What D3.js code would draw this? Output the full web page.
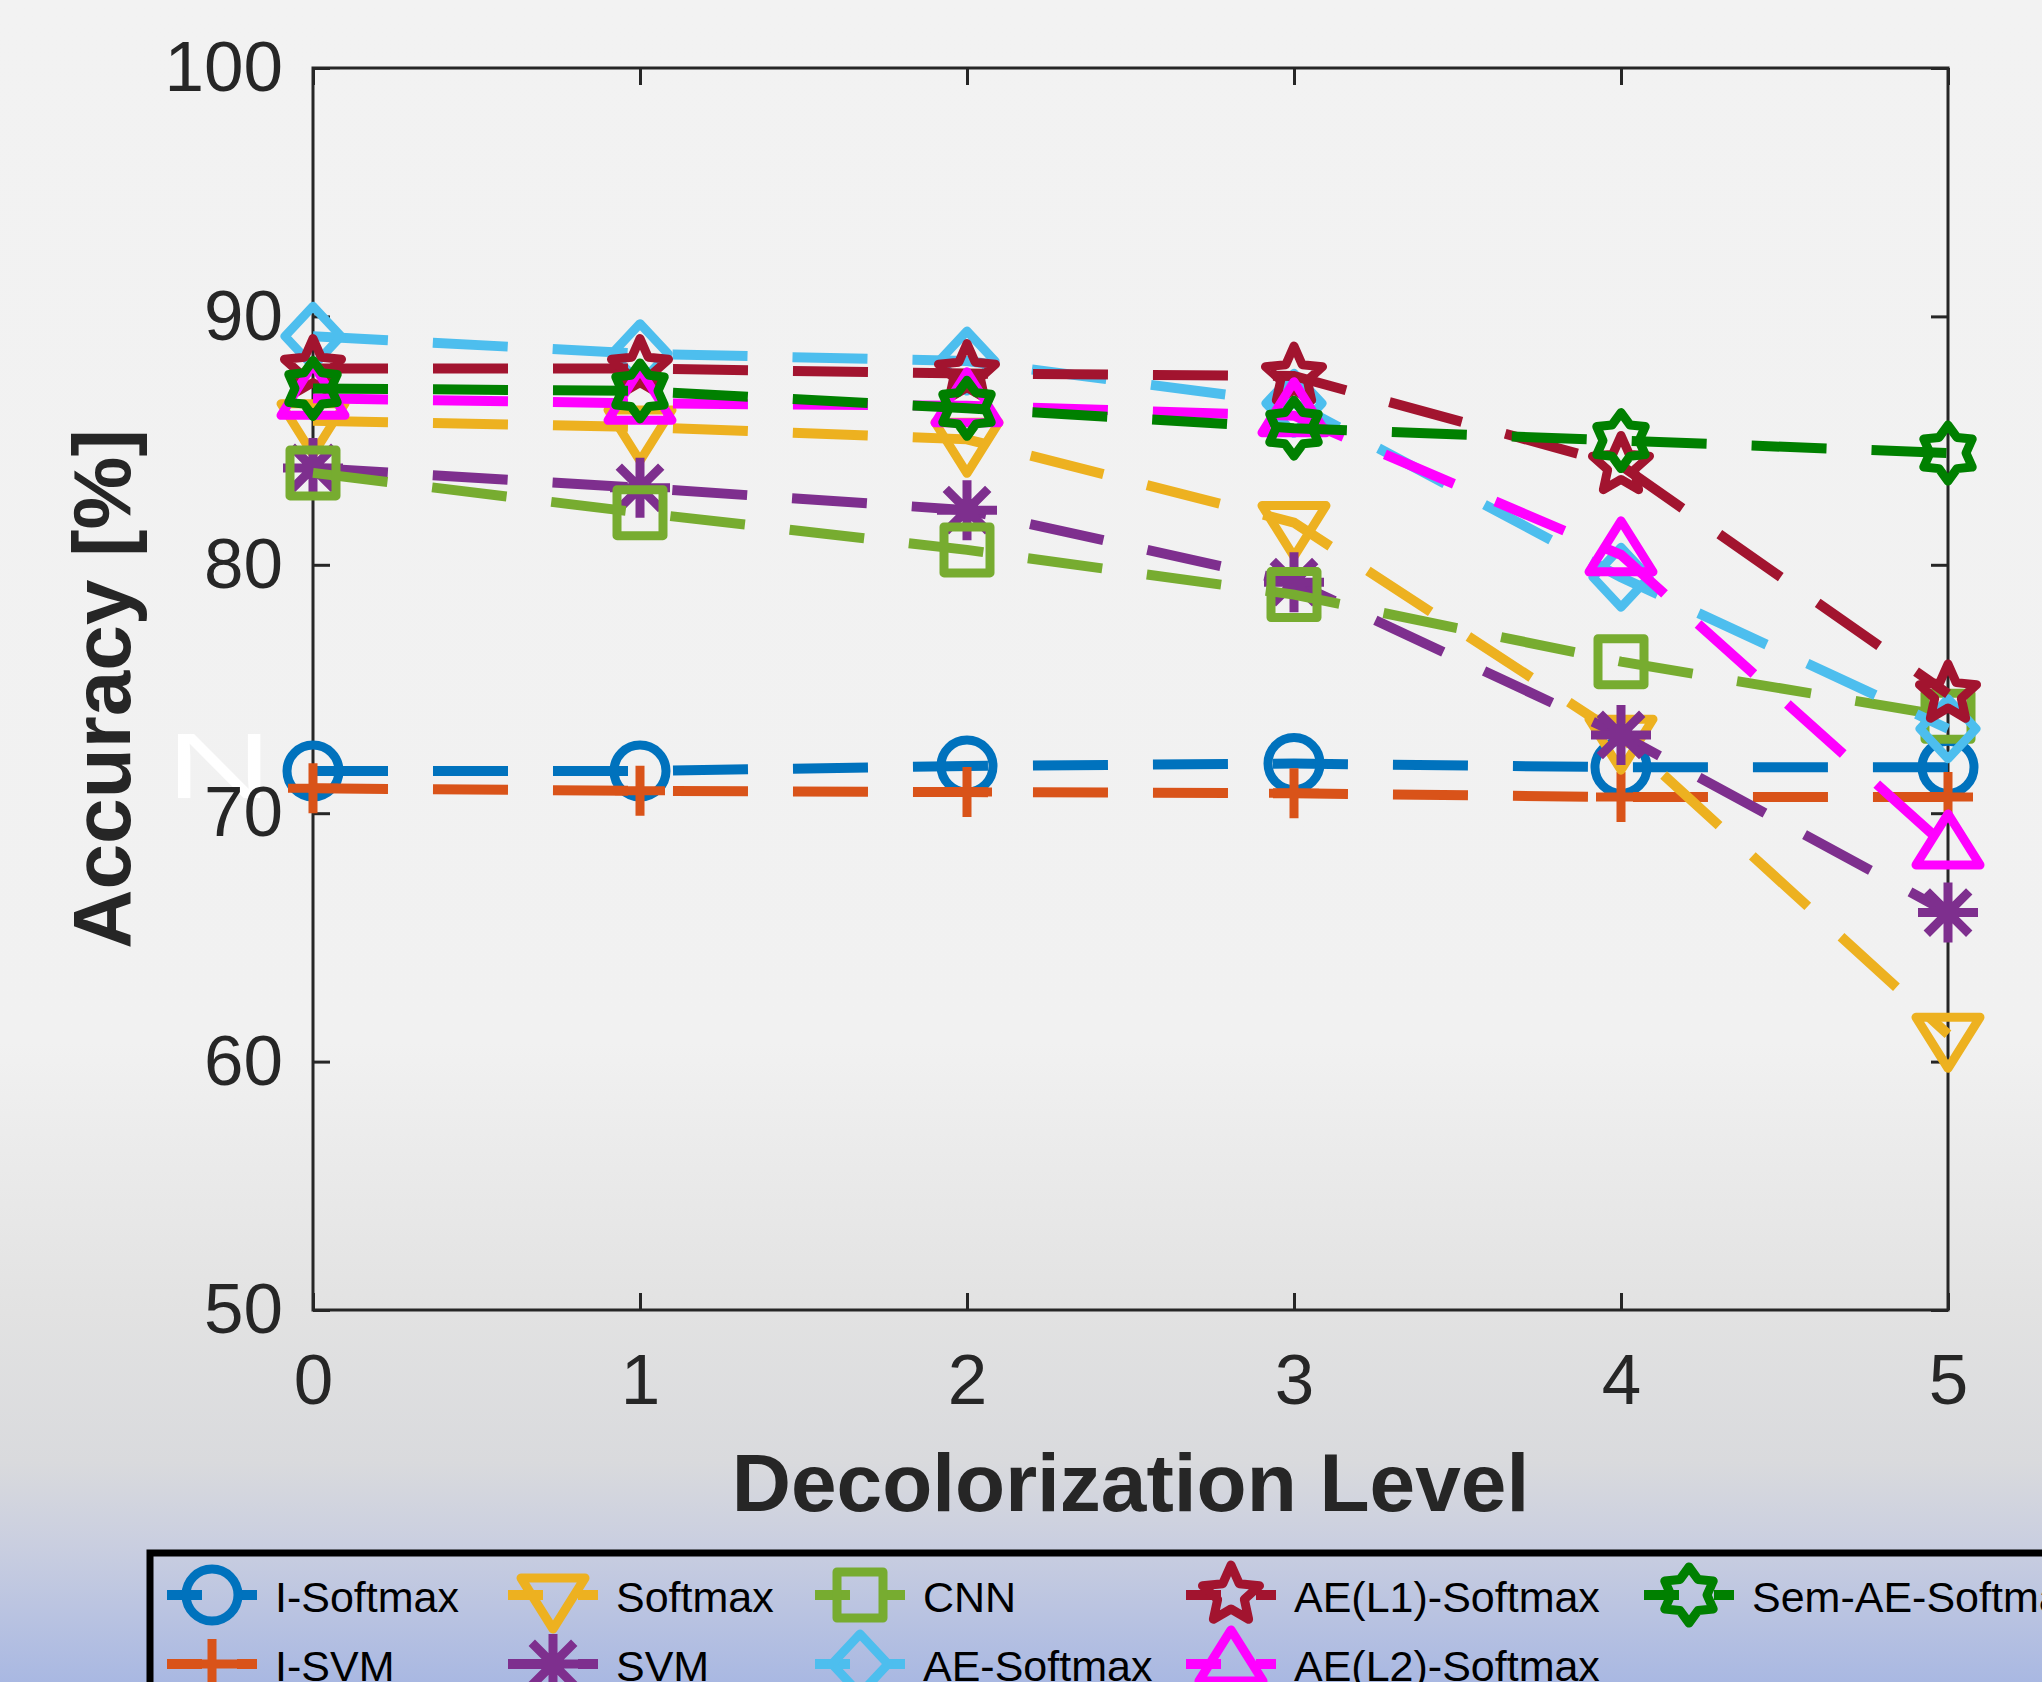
<!DOCTYPE html>
<html>
<head>
<meta charset="utf-8">
<script src="https://cdn.jsdelivr.net/npm/d3@7"></script>
<style>
  html, body { margin: 0; padding: 0; }
  svg { display: block; }
</style>
</head>
<body>
<div id="chart"></div>
<script>
// == DATA ==
const levels = [0, 1, 2, 3, 4, 5];
const xTicks = [0, 1, 2, 3, 4, 5];
const yTicks = [50, 60, 70, 80, 90, 100];

const iSoftmax     = [71.7, 71.7, 71.9, 72.0, 71.85, 71.85];
const iSvm         = [71.0, 70.9, 70.85, 70.8, 70.65, 70.65];
const softmax      = [85.8, 85.55, 85.05, 81.7, 73.1, 61.1];
const svm          = [83.9, 83.1, 82.2, 79.3, 73.15, 66.0];
const cnn          = [83.7, 82.1, 80.6, 78.8, 76.1, 73.9];
const aeSoftmax    = [89.2, 88.5, 88.2, 86.5, 79.5, 73.4];
const ae1Softmax   = [87.9, 87.9, 87.7, 87.6, 84.0, 74.8];
const ae2Softmax   = [86.7, 86.5, 86.4, 86.0, 80.4, 68.6];
const semAeSoftmax = [87.1, 87.0, 86.3, 85.5, 85.0, 84.5];

const seriesNames = ['I-Softmax', 'I-SVM', 'Softmax', 'SVM', 'CNN', 'AE-Softmax',
  'AE(L1)-Softmax', 'AE(L2)-Softmax', 'Sem-AE-Softmax'];
const seriesValues = [iSoftmax, iSvm, softmax, svm, cnn, aeSoftmax, ae1Softmax, ae2Softmax, semAeSoftmax];
const seriesColors = ['#0072BD', '#D95319', '#EDB120', '#7E2F8E', '#77AC30', '#4DBEEE',
  '#A2142F', '#FF00FF', '#008000'];
const seriesMarkers = ['o', '+', 'v', '*', 's', 'd', 'p', '^', 'h'];

// == CONFIG ==
const W = 2042, H = 1682;
const TEXT_COLOR = '#262626';
const FONT = '"Liberation Sans", Arial, Helvetica, sans-serif';
const LINE_W = 10;
const MARK_W = 9;
const TICK_LEN = 17;

const svg = d3.select('#chart').append('svg')
  .attr('width', W)
  .attr('height', H);

// background gradient (figure colour fading to blue at the bottom)
const defs = svg.append('defs');
const grad = defs.append('linearGradient')
  .attr('id', 'bg')
  .attr('x1', 0).attr('y1', 0).attr('x2', 0).attr('y2', 1);
[[0, '#f2f2f2'], [0.62, '#f1f1f1'], [0.78, '#e2e2e2'], [0.87, '#d9dadd'],
 [0.92, '#c9cee0'], [1, '#a9b8e2']].forEach(([o, c]) => {
  grad.append('stop').attr('offset', o).attr('stop-color', c);
});
svg.append('rect').attr('width', W).attr('height', H).attr('fill', 'url(#bg)');

// == SCALES ==
const x = d3.scaleLinear().domain([0, 5]).range([313, 1948]);
const y = d3.scaleLinear().domain([50, 100]).range([1310, 68]);

// stray white glyph left of the axis
svg.append('text')
  .attr('transform', 'translate(166,798) scale(1.6,1)')
  .attr('fill', '#ffffff')
  .attr('font-family', FONT)
  .attr('font-size', 92)
  .text('N');

// == AXES ==
function styleAxis(g, showLabels) {
  g.select('.domain').remove();
  g.selectAll('.tick line').attr('stroke', TEXT_COLOR).attr('stroke-width', 3);
  g.selectAll('.tick text')
    .attr('fill', TEXT_COLOR)
    .attr('font-family', FONT)
    .attr('font-size', 71);
  if (!showLabels) g.selectAll('.tick text').remove();
}

svg.append('g')
  .attr('transform', `translate(0,${y(50)})`)
  .call(d3.axisBottom(x).tickValues(xTicks).tickFormat(d3.format('d'))
    .tickSizeInner(-TICK_LEN).tickSizeOuter(0).tickPadding(44))
  .call(g => styleAxis(g, true));

svg.append('g')
  .attr('transform', `translate(0,${y(100)})`)
  .call(d3.axisTop(x).tickValues(xTicks).tickSizeInner(-TICK_LEN).tickSizeOuter(0))
  .call(g => styleAxis(g, false));

svg.append('g')
  .attr('transform', `translate(${x(0)},0)`)
  .call(d3.axisLeft(y).tickValues(yTicks).tickFormat(d3.format('d'))
    .tickSizeInner(-TICK_LEN).tickSizeOuter(0).tickPadding(30))
  .call(g => styleAxis(g, true));

svg.append('g')
  .attr('transform', `translate(${x(5)},0)`)
  .call(d3.axisRight(y).tickValues(yTicks).tickSizeInner(-TICK_LEN).tickSizeOuter(0))
  .call(g => styleAxis(g, false));

// box
svg.append('rect')
  .attr('x', x(0)).attr('y', y(100))
  .attr('width', x(5) - x(0)).attr('height', y(50) - y(100))
  .attr('fill', 'none')
  .attr('stroke', TEXT_COLOR)
  .attr('stroke-width', 3);

// axis titles
svg.append('text')
  .attr('x', (x(0) + x(5)) / 2)
  .attr('y', 1511)
  .attr('text-anchor', 'middle')
  .attr('fill', TEXT_COLOR)
  .attr('font-family', FONT)
  .attr('font-weight', 'bold')
  .attr('font-size', 82)
  .text('Decolorization Level');

svg.append('text')
  .attr('transform', `translate(130,${(y(50) + y(100)) / 2}) rotate(-90)`)
  .attr('text-anchor', 'middle')
  .attr('fill', TEXT_COLOR)
  .attr('font-family', FONT)
  .attr('font-weight', 'bold')
  .attr('font-size', 82)
  .text('Accuracy [%]');

// == MARKERS ==
function starPath(points, rOut, rIn) {
  const p = d3.path();
  for (let i = 0; i < points * 2; i++) {
    const r = i % 2 === 0 ? rOut : rIn;
    const a = -Math.PI / 2 + i * Math.PI / points;
    if (i === 0) p.moveTo(r * Math.cos(a), r * Math.sin(a));
    else p.lineTo(r * Math.cos(a), r * Math.sin(a));
  }
  p.closePath();
  return p.toString();
}

function markerPath(type) {
  switch (type) {
    case 'o': {
      const p = d3.path();
      p.arc(0, 0, 26, 0, Math.PI * 2);
      return p.toString();
    }
    case '+': return 'M-25,0H25M0,-25V25';
    case 'v': return 'M-32,-17L32,-17L0,34Z';
    case '^': return 'M-32,17L32,17L0,-34Z';
    case 's': return 'M-23,-23H23V23H-23Z';
    case 'd': return 'M0,-30L28,0L0,30L-28,0Z';
    case '*': {
      const r = 30, k = r * Math.SQRT1_2;
      return `M${-r},0H${r}M0,${-r}V${r}M${-k},${-k}L${k},${k}M${-k},${k}L${k},${-k}`;
    }
    case 'p': return starPath(5, 30, 14);
    case 'h': return starPath(6, 28, 18);
  }
  return '';
}

// == LINES ==
const series = seriesNames.map((name, i) => ({
  name,
  color: seriesColors[i],
  marker: seriesMarkers[i],
  points: levels.map((lv, j) => ({ lv, v: seriesValues[i][j] }))
}));

const line = d3.line().x(d => x(d.lv)).y(d => y(d.v));

const gSeries = svg.append('g');
series.forEach(s => {
  const g = gSeries.append('g');
  g.append('path')
    .attr('d', line(s.points))
    .attr('fill', 'none')
    .attr('stroke', s.color)
    .attr('stroke-width', LINE_W)
    .attr('stroke-dasharray', '75,45');

  g.selectAll('path.marker')
    .data(s.points)
    .enter().append('path')
    .attr('class', 'marker')
    .attr('transform', d => `translate(${x(d.lv)},${y(d.v)})`)
    .attr('d', markerPath(s.marker))
    .attr('fill', 'none')
    .attr('stroke', s.color)
    .attr('stroke-width', MARK_W)
    .attr('stroke-linejoin', 'round');
});

// == LEGEND ==
const legendCols = [212, 553, 860, 1231, 1689];
const legendRows = [1595, 1664];

svg.append('rect')
  .attr('x', 150).attr('y', 1553)
  .attr('width', 2100).attr('height', 300)
  .attr('fill', 'none')
  .attr('stroke', '#000')
  .attr('stroke-width', 7);

const gLegend = svg.append('g');
series.forEach((s, i) => {
  const cx = legendCols[Math.floor(i / 2)];
  const cy = legendRows[i % 2];
  const item = gLegend.append('g').attr('transform', `translate(${cx},${cy})`);
  item.append('line')
    .attr('x1', -45).attr('x2', 45)
    .attr('stroke', s.color)
    .attr('stroke-width', LINE_W)
    .attr('stroke-dasharray', '35,35');
  item.append('path')
    .attr('d', markerPath(s.marker))
    .attr('fill', 'none')
    .attr('stroke', s.color)
    .attr('stroke-width', MARK_W)
    .attr('stroke-linejoin', 'round');
  item.append('text')
    .attr('x', 63)
    .attr('y', 17)
    .attr('fill', '#000')
    .attr('font-family', FONT)
    .attr('font-size', 43)
    .text(s.name);
});
</script>
</body>
</html>
